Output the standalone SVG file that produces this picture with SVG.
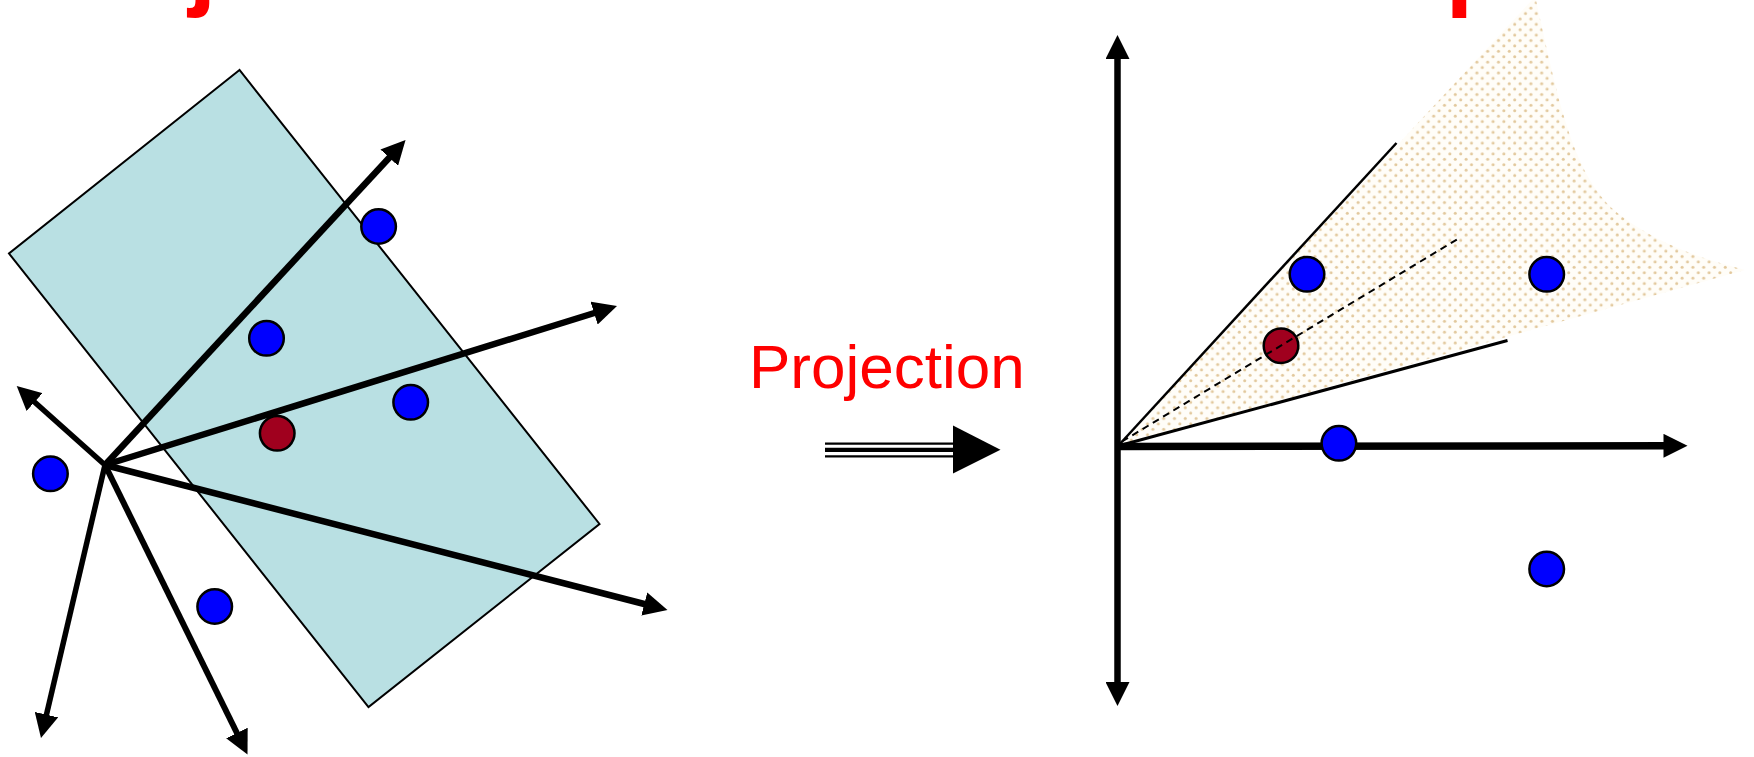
<svg xmlns="http://www.w3.org/2000/svg" width="1754" height="757" viewBox="0 0 1754 757">
<style>
.bg{fill:#FFFFFF}
.title{fill:#FF0000;font-family:"Liberation Sans",Arial,sans-serif;font-weight:bold;font-size:100px}
.label{fill:#FF0000;font-family:"Liberation Sans",Arial,sans-serif;font-size:62px}
.dot{stroke:#000;stroke-width:2.5}
.blue{fill:#0000FF}
.red{fill:#A0001E}
.arrow{stroke:#000;fill:none;marker-end:url(#ah)}
.thin{stroke:#000;fill:none}
</style>
<defs>
<marker id="ah" markerUnits="userSpaceOnUse" markerWidth="25" markerHeight="24" viewBox="0 0 25 24" refX="2" refY="12" orient="auto-start-reverse">
<path d="M0,0 L24,12 L0,24 z" fill="#000"/>
</marker>
<pattern id="dots" patternUnits="userSpaceOnUse" width="10.8" height="10.8">
<rect width="10.8" height="10.8" fill="#FFFDF8"/>
<circle cx="2.7" cy="2.7" r="1.5" fill="#E2C89C"/>
<circle cx="8.1" cy="8.1" r="1.5" fill="#E2C89C"/>
</pattern>
</defs>
<rect class="bg" width="1754" height="757"/>

<g id="titles">
<text class="title" x="188.5" y="-3">j</text>
<text class="title" x="1445.6" y="-3">p</text>
</g>

<g id="plane">
<polygon points="239.5,70 9,253.5 368.5,707 599.5,524" fill="#B9E0E3" stroke="#000" stroke-width="2"/>
</g>

<g id="left-axes">
<line class="arrow" stroke-width="6.5" x1="105" y1="465" x2="390.6" y2="156.2"/>
<line class="arrow" stroke-width="6.5" x1="105" y1="465" x2="596" y2="312.5"/>
<line class="arrow" stroke-width="6.5" x1="105" y1="465" x2="646.2" y2="604.5"/>
<line class="arrow" stroke-width="5.5" x1="105" y1="465" x2="33.1" y2="400.7"/>
<line class="arrow" stroke-width="5.5" x1="105" y1="465" x2="46" y2="716.6"/>
<line class="arrow" stroke-width="6" x1="105" y1="465" x2="237.8" y2="734.8"/>
</g>

<g id="left-points">
<circle class="dot blue" cx="378.6" cy="226.5" r="17.3"/>
<circle class="dot blue" cx="266.5" cy="338.3" r="17.3"/>
<circle class="dot blue" cx="410.7" cy="402.3" r="17.3"/>
<circle class="dot red" cx="277.2" cy="433.3" r="17.3"/>
<circle class="dot blue" cx="50.4" cy="473.8" r="17.3"/>
<circle class="dot blue" cx="214.7" cy="606.5" r="17.3"/>
</g>

<g id="projection-arrow">
<text class="label" x="749" y="388">Projection</text>
<line x1="825" y1="443.6" x2="954" y2="443.6" stroke="#000" stroke-width="2.3"/>
<line x1="825" y1="449.9" x2="954" y2="449.9" stroke="#000" stroke-width="4.3"/>
<line x1="825" y1="456.4" x2="954" y2="456.4" stroke="#000" stroke-width="2.3"/>
<polygon points="953,425.5 953,473.5 1000.5,449.8" fill="#000"/>
</g>

<g id="cone">
<path d="M1118,446 L1532,0 L1536,0 C1560,110 1575,180 1620,215 C1660,245 1700,258 1745,270 Z" fill="url(#dots)"/>
<line class="thin" stroke-width="2.5" x1="1118" y1="446" x2="1396.5" y2="143"/>
<line class="thin" stroke-width="3" x1="1118" y1="446" x2="1507.5" y2="340.5"/>
</g>

<g id="right-axes">
<line class="arrow" stroke-width="6.5" x1="1117.5" y1="684" x2="1117.5" y2="57" style="marker-start:url(#ah)"/>
<line class="arrow" stroke-width="7.5" x1="1117.5" y1="446.5" x2="1665.5" y2="445.8"/>
</g>

<g id="right-points">
<circle class="dot blue" cx="1307" cy="274.3" r="17.3"/>
<circle class="dot blue" cx="1546.7" cy="274.3" r="17.3"/>
<circle class="dot red" cx="1281" cy="345.7" r="17.3"/>
<circle class="dot blue" cx="1338.9" cy="443.3" r="17.3"/>
<circle class="dot blue" cx="1546.7" cy="569" r="17.3"/>
</g>

<g id="centroid-line">
<line class="thin" stroke-width="2" stroke-dasharray="7 5" x1="1122" y1="441.5" x2="1461" y2="237"/>
</g>
</svg>
